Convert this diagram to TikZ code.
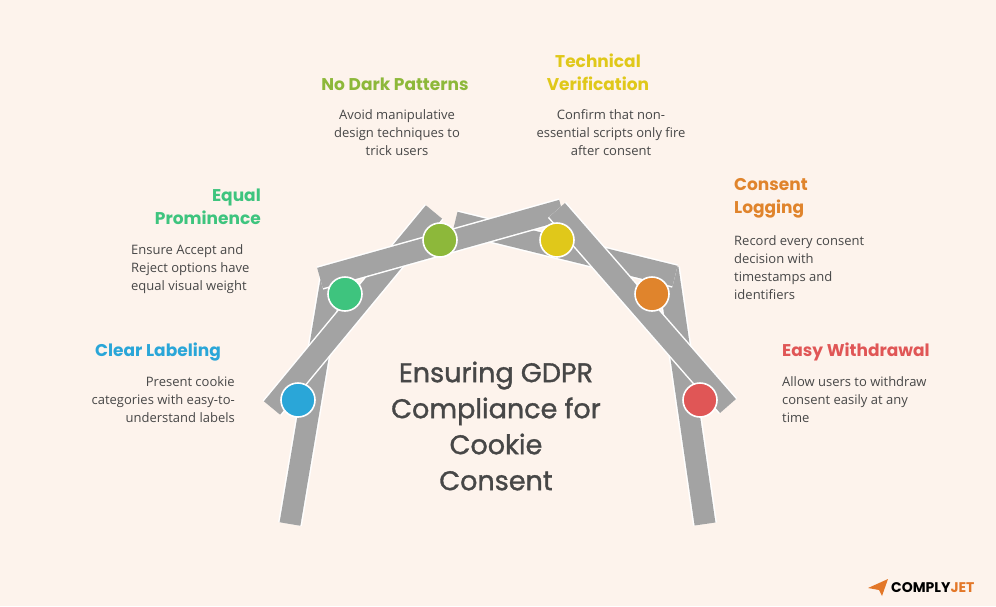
\documentclass[tikz,border=0pt]{standalone}
\usepackage{fontspec}
\setmainfont{Open Sans}
\newfontfamily\pop{Poppins}
\newfontfamily\popm[FakeBold=1.2]{Poppins}
\begin{document}
\begin{tikzpicture}[x=1pt,y=-1pt,
  bar/.style={line width=24pt,white},
  barin/.style={line width=21pt,draw=black!36},
  dot/.style={circle,minimum size=34pt,inner sep=0pt,draw=white,line width=1.6pt},
  hd/.style={font=\pop\fontsize{17}{23}\selectfont\bfseries,inner sep=0pt},
  bd/.style={font=\fontsize{13}{18}\selectfont,text=black!72,inner sep=0pt}]
\definecolor{bg}{HTML}{FDF3EC}
\definecolor{cb}{HTML}{2AA6D8}\definecolor{cg}{HTML}{3EC47E}
\definecolor{co}{HTML}{8DB83A}\definecolor{cy}{HTML}{E0C81A}
\definecolor{cor}{HTML}{E0842C}\definecolor{cr}{HTML}{E05656}
\fill[bg] (0,0) rectangle (996,606);
\useasboundingbox (0,0) rectangle (996,606);
\newcommand{\bb}[2]{\draw[bar] #1 -- #2; \draw[barin] #1 -- #2;}
\bb{(290,524)}{(333,268)}
\bb{(705,524)}{(668,268)}
\bb{(272,408)}{(434,212)}
\bb{(455,222)}{(675,276)}
\bb{(320,278)}{(562,210)}
\bb{(557,210)}{(728,406)}
\node[dot,fill=cb] (b) at (298,400) {};
\node[dot,fill=cg] (g) at (345,294) {};
\node[dot,fill=co] (o) at (440,240) {};
\node[dot,fill=cy] (y) at (557,240) {};
\node[dot,fill=cor] (or) at (652,294) {};
\node[dot,fill=cr] (r) at (700,400) {};
\node[hd,text=cb,anchor=east] (h1) at (221,352) {Clear Labeling};
\node[bd,align=right,anchor=north east] (t1) at (235,376) {Present cookie\\categories with easy-to-\\understand labels};
\node[hd,text=cg,align=right,anchor=east] (h2) at (261,207) {Equal\\Prominence};
\node[bd,align=left,anchor=north west] (t2) at (131,244) {Ensure Accept and\\Reject options have\\equal visual weight};
\node[hd,text=co] (h3) at (395,84) {No Dark Patterns};
\node[bd,align=center,anchor=north] (t3) at (397,109) {Avoid manipulative\\design techniques to\\trick users};
\node[hd,text=cy,align=center] (h4) at (598,72) {Technical\\Verification};
\node[bd,align=center,anchor=north] (t4) at (611,109) {Confirm that non-\\essential scripts only fire\\after consent};
\node[hd,text=cor,align=left,anchor=west] (h5) at (734,198) {Consent\\Logging};
\node[bd,align=left,anchor=north west] (t5) at (734,235) {Record every consent\\decision with\\timestamps and\\identifiers};
\node[hd,text=cr,anchor=west] (h6) at (782,352) {Easy Withdrawal};
\node[bd,align=left,anchor=north west] (t6) at (782,376) {Allow users to withdraw\\consent easily at any\\time};
\node[font=\popm\fontsize{27}{36}\selectfont,text=black!72,align=center,inner sep=0pt] (c) at (496,426) {Ensuring GDPR\\Compliance for\\Cookie\\Consent};
\fill[cor!90!red] (868,588) -- (888,579) -- (882,596) -- (879,590) -- cycle;
\node[font=\pop\fontsize{14}{16}\selectfont\bfseries,anchor=west,inner sep=0pt] (logo) at (891,588) {COMPLY\textcolor{cor!90!red}{JET}};
\end{tikzpicture}
\end{document}
